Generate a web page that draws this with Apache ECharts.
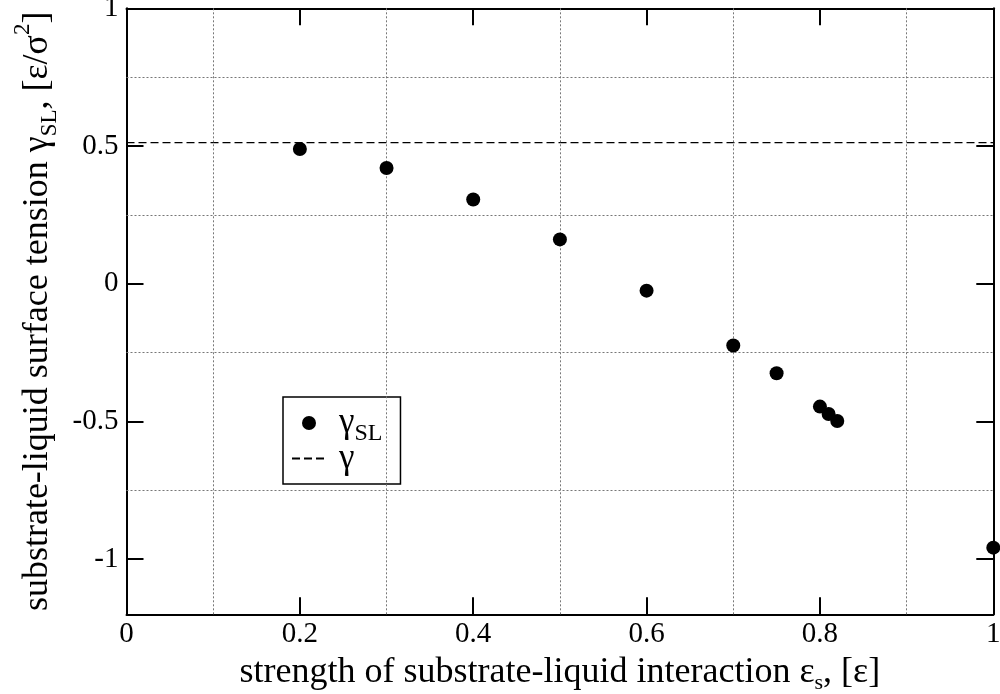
<!DOCTYPE html>
<html>
<head>
<meta charset="utf-8">
<script src="https://cdn.jsdelivr.net/npm/echarts@6/dist/echarts.min.js"></script>
<style>
html,body{margin:0;padding:0;background:#fff;}
#chart{width:1000px;height:694px;}
</style>
</head>
<body>
<div id="chart"></div>
<script>
// Data
const epsS = [0.2, 0.3, 0.4, 0.5, 0.6, 0.7, 0.75, 0.8, 0.81, 0.82, 1.0];
const gammaSL = [0.489, 0.42, 0.306, 0.161, -0.025, -0.224, -0.325, -0.446, -0.473, -0.498, -0.958];
const gammaLine = 0.512;
const xRange = [0, 1];
const yRange = [-1.2, 1];
// dotted grid positions (minor ticks of the original plot)
const gridX = [0.1, 0.3, 0.5, 0.7, 0.9];
const gridY = [0.75, 0.25, -0.25, -0.75];

const FONT = '"Liberation Serif", "DejaVu Serif", serif';
const GRID_COLOR = '#777';
const chart = echarts.init(document.getElementById('chart'));

const scatterData = epsS.map((x, i) => [x, gammaSL[i]]);
const lineData = [[xRange[0], gammaLine], [xRange[1], gammaLine]];
const gridMarks = gridX.map(v => ({xAxis: v})).concat(gridY.map(v => ({yAxis: v})));

function axisLine() { return {show: true, onZero: false, lineStyle: {color: '#000', width: 2}}; }
function axisTick() { return {show: true, inside: true, length: 17, lineStyle: {color: '#000', width: 2}}; }
function noGrid() {
  return {show: false, showMinLine: false, showMaxLine: false,
          lineStyle: {color: 'rgba(0,0,0,0)', width: 0, opacity: 0}};
}
function noArea() { return {show: false}; }

const option = {
  animation: false,
  backgroundColor: '#fff',
  axisPointer: {show: false},
  grid: {left: 126.5, right: 6.7, top: 8.3, bottom: 79.7, containLabel: false, outerBoundsMode: 'none', show: false},
  xAxis: [
    {
      type: 'value', min: xRange[0], max: xRange[1], interval: 0.2, position: 'bottom',
      axisLine: axisLine(), axisTick: axisTick(),
      axisLabel: {color: '#000', fontFamily: FONT, fontSize: 29, margin: 6},
      splitLine: noGrid(), minorSplitLine: noGrid(), minorTick: {show: false}, splitArea: noArea(),
      axisPointer: {show: false},
      name: '{t|strength of substrate-liquid interaction ε}{s|s}{t|, [ε]}',
      nameLocation: 'middle', nameGap: 30,
      nameTextStyle: {
        color: '#000', fontFamily: FONT, fontSize: 36,
        rich: {
          t: {fontFamily: FONT, fontSize: 36, color: '#000'},
          s: {fontFamily: FONT, fontSize: 22, color: '#000', padding: [22, 0, 0, 0]}
        }
      }
    },
    {
      type: 'value', min: xRange[0], max: xRange[1], interval: 0.2, position: 'top',
      axisLine: axisLine(), axisTick: axisTick(),
      axisLabel: {show: false}, splitLine: noGrid(), minorSplitLine: noGrid(), minorTick: {show: false}, splitArea: noArea(),
      axisPointer: {show: false}
    }
  ],
  yAxis: [
    {
      type: 'value', min: yRange[0], max: yRange[1], splitNumber: 5, position: 'left',
      axisLine: axisLine(), axisTick: axisTick(),
      axisLabel: {color: '#000', fontFamily: FONT, fontSize: 29, margin: 8, showMinLabel: false},
      splitLine: noGrid(), minorSplitLine: noGrid(), minorTick: {show: false}, splitArea: noArea(),
      axisPointer: {show: false},
      name: '{t|substrate-liquid surface tension γ}{s|SL}{t|, [ε/σ}{p|2}{t|]}',
      nameLocation: 'middle', nameGap: 62, nameRotate: 90,
      nameTextStyle: {
        color: '#000', fontFamily: FONT, fontSize: 36,
        rich: {
          t: {fontFamily: FONT, fontSize: 36, color: '#000'},
          s: {fontFamily: FONT, fontSize: 23, color: '#000', padding: [24, 0, 0, 0]},
          p: {fontFamily: FONT, fontSize: 23, color: '#000', padding: [0, 0, 30, 0]}
        }
      }
    },
    {
      type: 'value', min: yRange[0], max: yRange[1], splitNumber: 5, position: 'right',
      axisLine: axisLine(), axisTick: axisTick(),
      axisLabel: {show: false}, splitLine: noGrid(), minorSplitLine: noGrid(), minorTick: {show: false}, splitArea: noArea(),
      axisPointer: {show: false}
    }
  ],
  legend: {
    orient: 'vertical', left: 283, top: 397,
    backgroundColor: '#fff', borderColor: '#000', borderWidth: 1.5, borderRadius: 0,
    padding: [3, 18, 8, 8], itemGap: -5, itemWidth: 34, itemHeight: 14,
    data: [
      {name: 'gSL'},
      {name: 'g', itemStyle: {opacity: 0}}
    ],
    formatter: function (name) {
      return name === 'gSL' ? '{g|γ}{s|SL}' : '{g|γ}';
    },
    textStyle: {
      color: '#000', fontFamily: FONT, fontSize: 34, padding: [0, 0, 0, 8],
      rich: {
        g: {fontFamily: FONT, fontSize: 35, lineHeight: 40, color: '#000'},
        s: {fontFamily: FONT, fontSize: 24, lineHeight: 16, color: '#000', padding: [22, 0, 0, 0]}
      }
    }
  },
  series: [
    {
      name: 'gSL', type: 'scatter', symbol: 'circle', symbolSize: 14,
      itemStyle: {color: '#000', opacity: 1}, data: scatterData, z: 5
    },
    {
      name: 'g', type: 'line', symbol: 'none', showSymbol: false,
      lineStyle: {color: '#000', width: 1.3, type: [8, 4]},
      itemStyle: {color: '#000'},
      data: lineData, z: 4,
      markLine: {
        silent: true, symbol: ['none', 'none'], label: {show: false},
        emphasis: {disabled: true},
        lineStyle: {color: GRID_COLOR, width: 1, type: [2, 2], opacity: 1},
        data: gridMarks
      }
    }
  ]
};
chart.setOption(option);
</script>
</body>
</html>
